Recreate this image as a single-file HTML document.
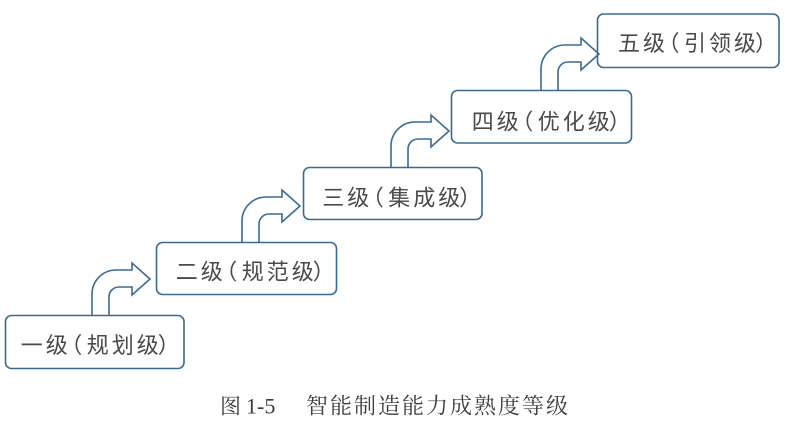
<!DOCTYPE html>
<html>
<head>
<meta charset="utf-8">
<style>
  html, body { margin: 0; padding: 0; background: #ffffff; }
  body { width: 787px; height: 427px; overflow: hidden; }
  svg { display: block; }
  .box { fill: none; stroke: #3b6a8f; stroke-width: 1.6; }
  .arr { fill: none; stroke: #3b6a8f; stroke-width: 1.6; stroke-linejoin: miter; }
  .lbl { font-family: "Liberation Sans", "Noto Sans CJK SC", sans-serif; font-size: 22px; fill: #4a4a4a; }
  .cap { font-family: "Liberation Serif", "Noto Serif CJK SC", serif; font-size: 22px; fill: #3c3c3c; }
</style>
</head>
<body>
<svg width="787" height="427" viewBox="0 0 787 427" xmlns="http://www.w3.org/2000/svg">
  <!-- arrows -->
  <path class="arr" d="M92,315 V294 A24,24 0 0 1 116,270 H132 V263 L150,279 L132,295 V287 H119 A10,10 0 0 0 109,297 V315"/>
  <path class="arr" d="M242,242 V221 A24,24 0 0 1 266,197 H282 V190 L300,206 L282,222 V214 H269 A10,10 0 0 0 259,224 V242"/>
  <path class="arr" d="M391,167 V146 A24,24 0 0 1 415,122 H431 V115 L449,131 L431,147 V139 H418 A10,10 0 0 0 408,149 V167"/>
  <path class="arr" d="M541,90 V69 A24,24 0 0 1 565,45 H581 V38 L599,54 L581,70 V62 H568 A10,10 0 0 0 558,72 V90"/>

  <!-- boxes -->
  <rect class="box" x="5.5" y="315.5" width="178.5" height="53" rx="6" ry="6"/>
  <rect class="box" x="156.5" y="242.5" width="180" height="52" rx="6" ry="6"/>
  <rect class="box" x="303.5" y="167.5" width="178.5" height="52" rx="6" ry="6"/>
  <rect class="box" x="451.5" y="90.5" width="180" height="52.5" rx="6" ry="6"/>
  <rect class="box" x="597.5" y="14" width="181.5" height="53.5" rx="6" ry="6"/>

  <!-- label 1 -->
  <g class="lbl">
    <text x="20.7" y="353">一</text>
    <text x="45.7" y="353">级</text>
    <text x="60.2" y="353">（</text>
    <text x="86.7" y="353">规</text>
    <text x="111.7" y="353">划</text>
    <text x="136.7" y="353">级</text>
    <text x="157.7" y="353">）</text>
  </g>
  <!-- label 2 -->
  <g class="lbl">
    <text x="175.7" y="279.5">二</text>
    <text x="200.7" y="279.5">级</text>
    <text x="215.2" y="279.5">（</text>
    <text x="241.7" y="279.5">规</text>
    <text x="266.7" y="279.5">范</text>
    <text x="291.7" y="279.5">级</text>
    <text x="312.7" y="279.5">）</text>
  </g>
  <!-- label 3 -->
  <g class="lbl">
    <text x="322.3" y="205.5">三</text>
    <text x="347.3" y="205.5">级</text>
    <text x="361.8" y="205.5">（</text>
    <text x="388.3" y="205.5">集</text>
    <text x="413.3" y="205.5">成</text>
    <text x="438.3" y="205.5">级</text>
    <text x="459.3" y="205.5">）</text>
  </g>
  <!-- label 4 -->
  <g class="lbl">
    <text x="471.7" y="129.5">四</text>
    <text x="496.7" y="129.5">级</text>
    <text x="511.2" y="129.5">（</text>
    <text x="537.7" y="129.5">优</text>
    <text x="562.7" y="129.5">化</text>
    <text x="587.7" y="129.5">级</text>
    <text x="608.7" y="129.5">）</text>
  </g>
  <!-- label 5 -->
  <g class="lbl">
    <text x="618" y="51">五</text>
    <text x="643" y="51">级</text>
    <text x="657.5" y="51">（</text>
    <text x="684" y="51">引</text>
    <text x="709" y="51">领</text>
    <text x="734" y="51">级</text>
    <text x="755" y="51">）</text>
  </g>

  <!-- caption -->
  <text class="cap" x="220" y="413.5" style="font-size:21px">图</text>
  <text class="cap" x="246" y="413.5">1-5</text>
  <text class="cap" x="306" y="413.5" textLength="262" lengthAdjust="spacing">智能制造能力成熟度等级</text>
</svg>
</body>
</html>
